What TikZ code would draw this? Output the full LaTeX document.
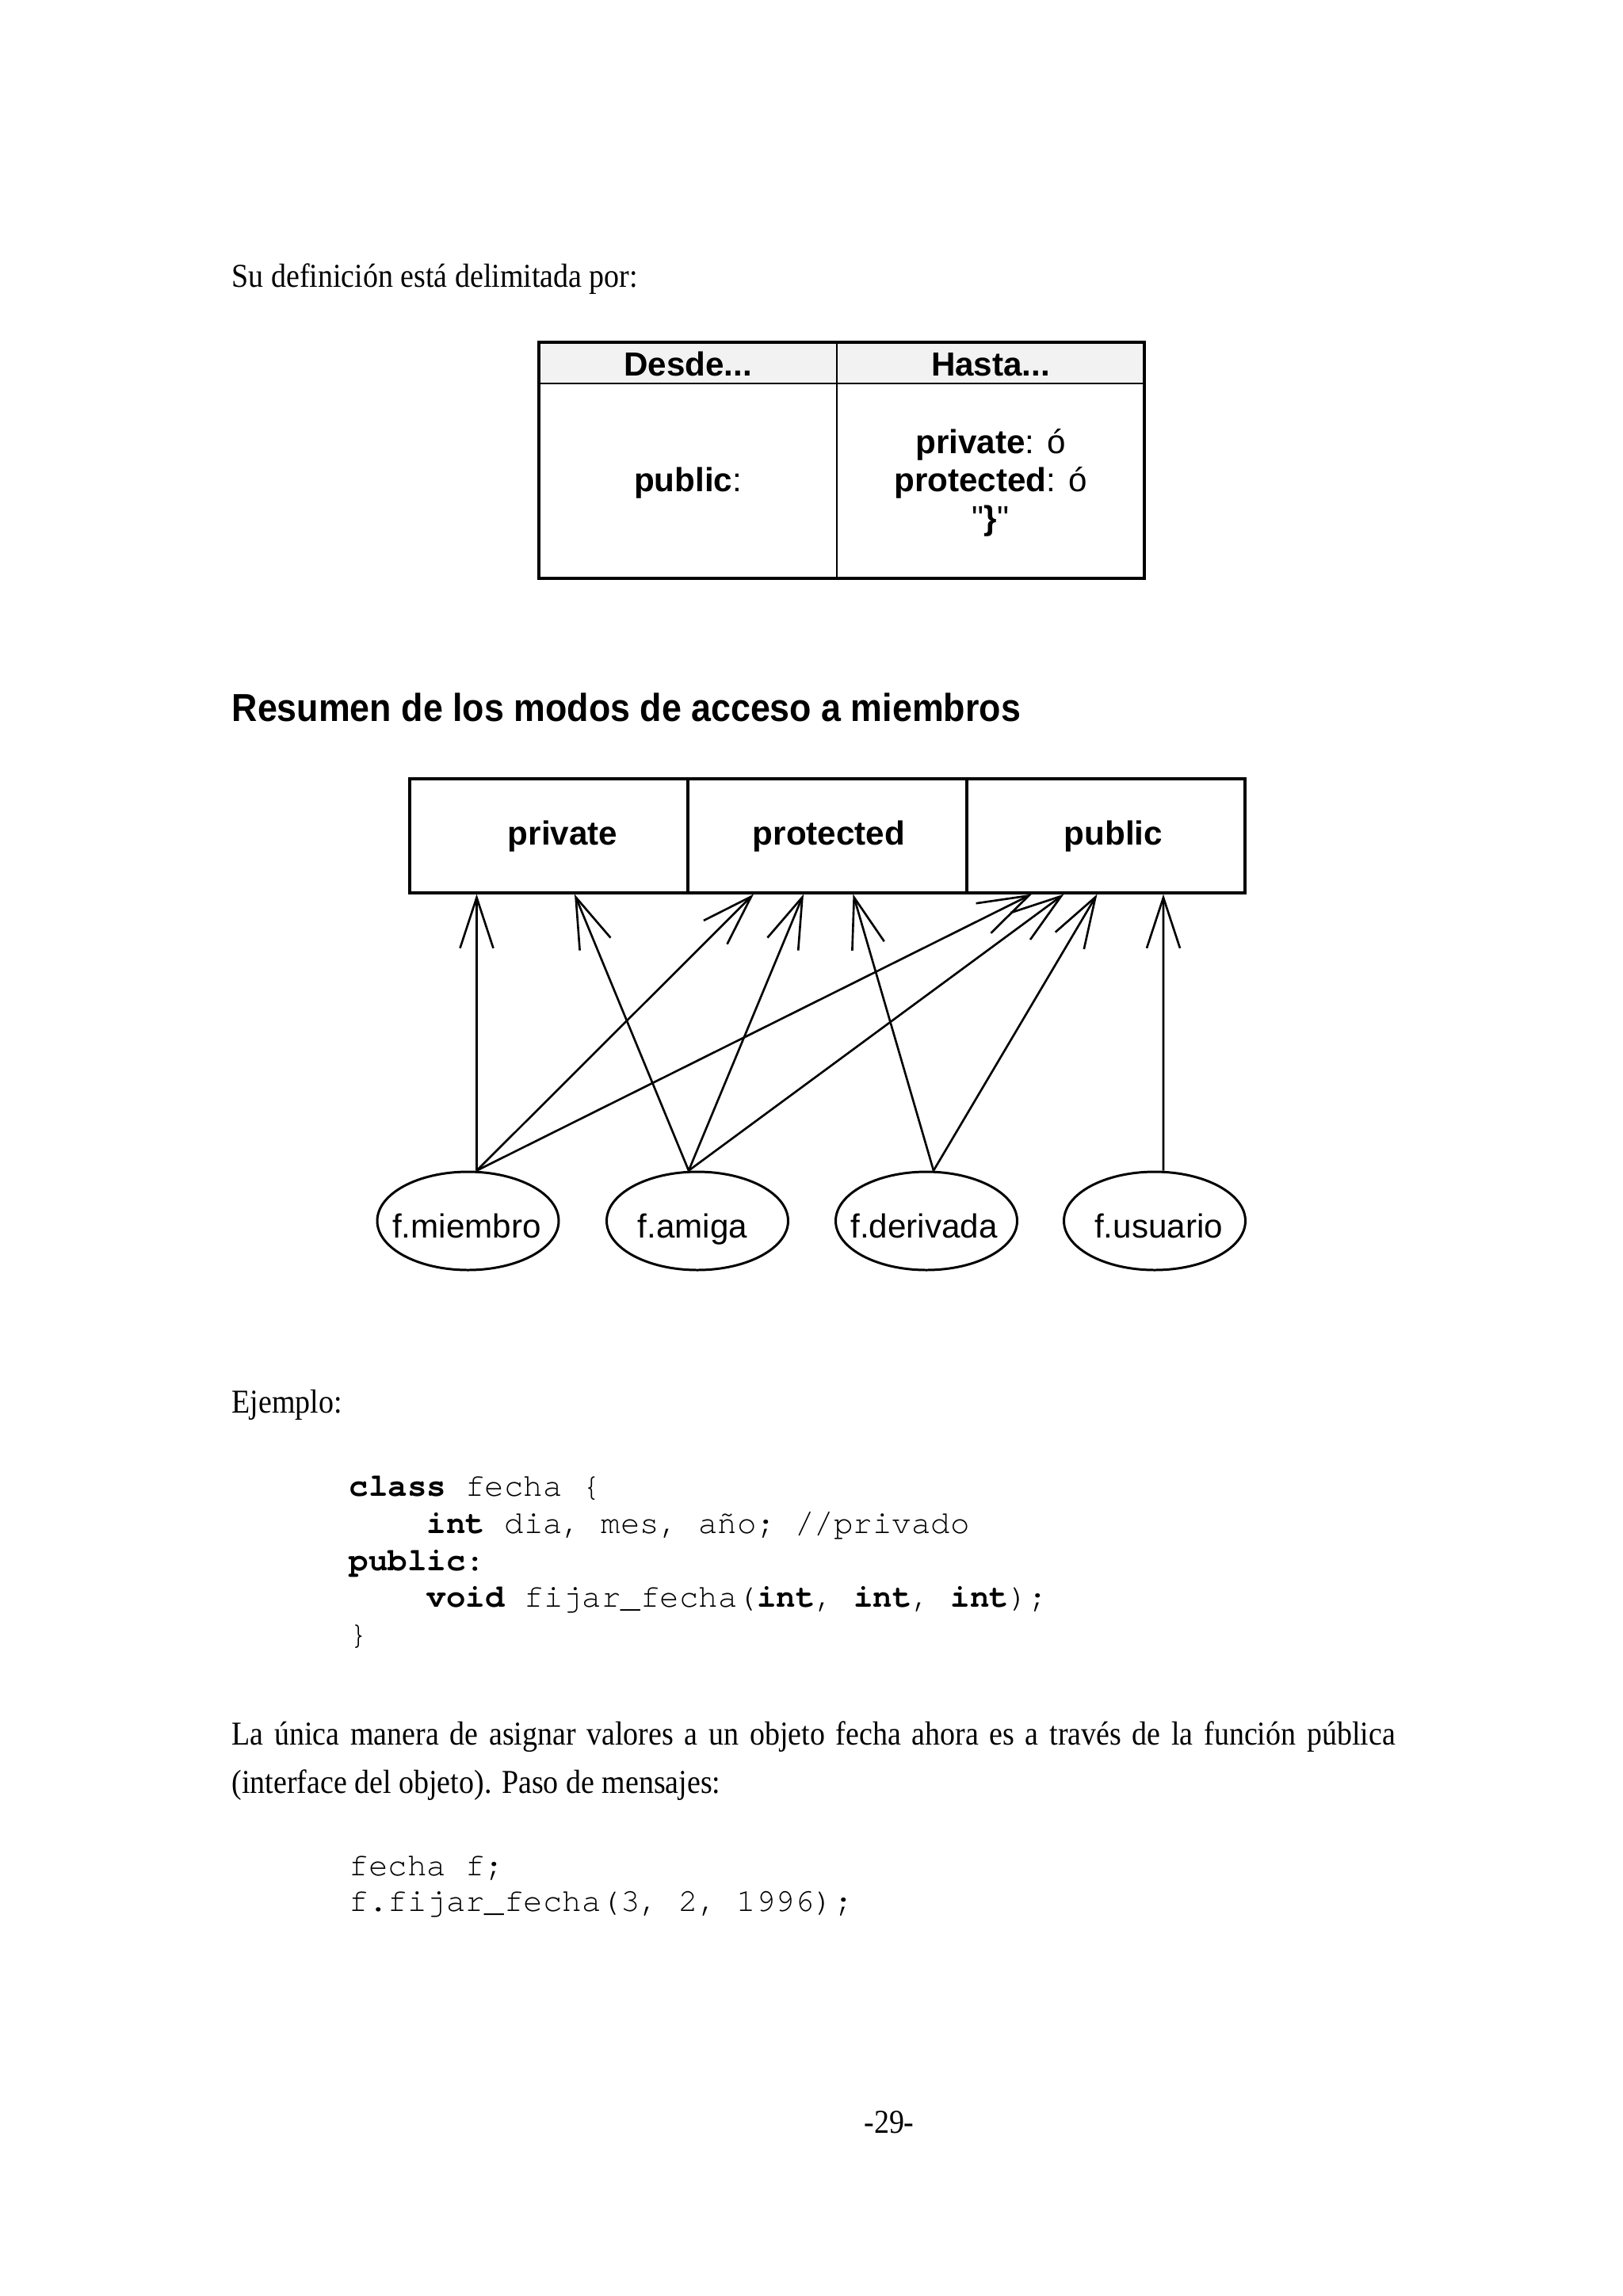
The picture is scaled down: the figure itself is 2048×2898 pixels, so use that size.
\documentclass[tikz,border=0pt]{standalone}
\usepackage{fontspec}
\setmainfont{Liberation Serif}
\newfontfamily\sansf{Liberation Sans}
\newfontfamily\headf{Liberation Sans}[FakeStretch=0.91]
\newfontfamily\bodyf{Liberation Serif}[FakeStretch=0.9]
\newfontfamily\codef{TeX Gyre Cursor}[Ligatures={NoCommon}]
\usetikzlibrary{arrows.meta,shapes.geometric}
\tikzset{
  txt/.style={inner sep=0,anchor=base west},
  body/.style={txt,font=\bodyf\fontsize{12}{14}\selectfont},
  code/.style={txt,font=\codef\fontsize{11.6}{13}\selectfont},
  cell/.style={inner sep=0,anchor=base,font=\sansf\fontsize{12}{14}\selectfont},
  acc/.style={draw,line width=0.9pt,minimum width=35.1mm,minimum height=14.4mm,inner sep=0},
  acclab/.style={inner sep=0,anchor=base,font=\sansf\bfseries\fontsize{12}{14}\selectfont},
  fn/.style={ellipse,draw,line width=0.85pt,minimum width=22.9mm,minimum height=12.4mm,inner sep=0},
  fnlab/.style={inner sep=0,anchor=base,font=\sansf\fontsize{12}{14}\selectfont},
  arr/.style={line width=0.75pt,-{Straight Barb[length=6.4mm,width=4.2mm]}}
}
\begin{document}
\begin{tikzpicture}[x=0.1mm,y=-0.1mm]
\fill[white] (0,0) rectangle (2048,2898);
\useasboundingbox (0,0) rectangle (2048,2898);

% intro
\node[body] (su) at (292,362) {Su definición está delimitada por:};

% table
\fill[gray!10] (680,432) rectangle (1444,484);
\draw[line width=0.5pt] (680,484) -- (1444,484) (1056,432) -- (1056,730);
\draw[line width=1.4pt] (680,432) rectangle (1444,730);
\node[cell] (desde) at (868,474) {\bfseries Desde...};
\node[cell] (hasta) at (1250,474) {\bfseries Hasta...};
\node[cell] (pubc) at (868,620) {\textbf{public}:};
\node[cell] (h1) at (1250,572) {\textbf{private}: ó};
\node[cell] (h2) at (1250,620) {\textbf{protected}: ó};
\node[cell] (h3) at (1250,668) {"\textbf{\}}"};

% heading
\node[txt,font=\headf\bfseries\fontsize{14}{16}\selectfont] (head) at (292,910) {Resumen de los modos de acceso a miembros};

% access boxes
\node[acc] (priv) at (692.5,1055) {};
\node[acc] (prot) at (1044,1055) {};
\node[acc] (pub) at (1395.5,1055) {};
\node[acclab] (privl) at (710,1066) {private};
\node[acclab] (protl) at (1046,1066) {protected};
\node[acclab] (publ) at (1405,1066) {public};

% functions
\node[fn] (mi) at (590.5,1541) {};
\node[fn] (am) at (880,1541) {};
\node[fn] (de) at (1169,1541) {};
\node[fn] (us) at (1457,1541) {};
\node[fnlab] (mil) at (589,1562) {f.miembro};
\node[fnlab] (aml) at (874,1562) {f.amiga};
\node[fnlab] (del) at (1166,1562) {f.derivada};
\node[fnlab] (usl) at (1462,1562) {f.usuario};

\coordinate (m0) at ([xshift=1.1mm]mi.north);
\coordinate (a0) at ([xshift=-1.1mm]am.north);
\coordinate (d0) at ([xshift=0.9mm]de.north);
\coordinate (u0) at ([xshift=1.1mm]us.north);

\coordinate (e1) at ([xshift=-9.1mm]priv.south);
\coordinate (e2) at ([xshift=3.25mm]priv.south);
\coordinate (e3) at ([xshift=-9.3mm]prot.south);
\coordinate (e4) at ([xshift=-3mm]prot.south);
\coordinate (e5) at ([xshift=3.25mm]prot.south);
\coordinate (e6) at ([xshift=-9.35mm]pub.south);
\coordinate (e7) at ([xshift=-5.3mm]pub.south);
\coordinate (e8) at ([xshift=-1.1mm]pub.south);
\coordinate (e9) at ([xshift=7.25mm]pub.south);

\draw[arr] (m0) -- (e1);
\draw[arr] (a0) -- (e2);
\draw[arr] (m0) -- (e3);
\draw[arr] (a0) -- (e4);
\draw[arr] (d0) -- (e5);
\draw[arr] (m0) -- (e6);
\draw[arr] (a0) -- (e7);
\draw[arr] (d0) -- (e8);
\draw[arr] (u0) -- (e9);

% example
\node[body] (ej) at (292,1783) {Ejemplo:};
\node[code] (c1) at (440,1888) {\textbf{class} fecha \{};
\node[code] (c2) at (538,1935) {\textbf{int} dia, mes, año; //privado};
\node[code] (c3) at (440,1982) {\textbf{public}:};
\node[code] (c4) at (538,2028) {\textbf{void} fijar\_fecha(\textbf{int}, \textbf{int}, \textbf{int});};
\node[code] (c5) at (440,2075) {\}};

\node[body] (p1) at (292,2202) {\makebox[146.8mm][s]{La única manera de asignar valores a un objeto fecha ahora es a través de la función pública}};
\node[body] (p2) at (292,2263) {(interface del objeto). Paso de mensajes:};

\node[code] (c6) at (440,2367) {fecha f;};
\node[code] (c7) at (440,2412) {f.fijar\_fecha(3, 2, 1996);};

\node[body,anchor=base] (pg) at (1122,2692) {-29-};
\end{tikzpicture}
\end{document}
